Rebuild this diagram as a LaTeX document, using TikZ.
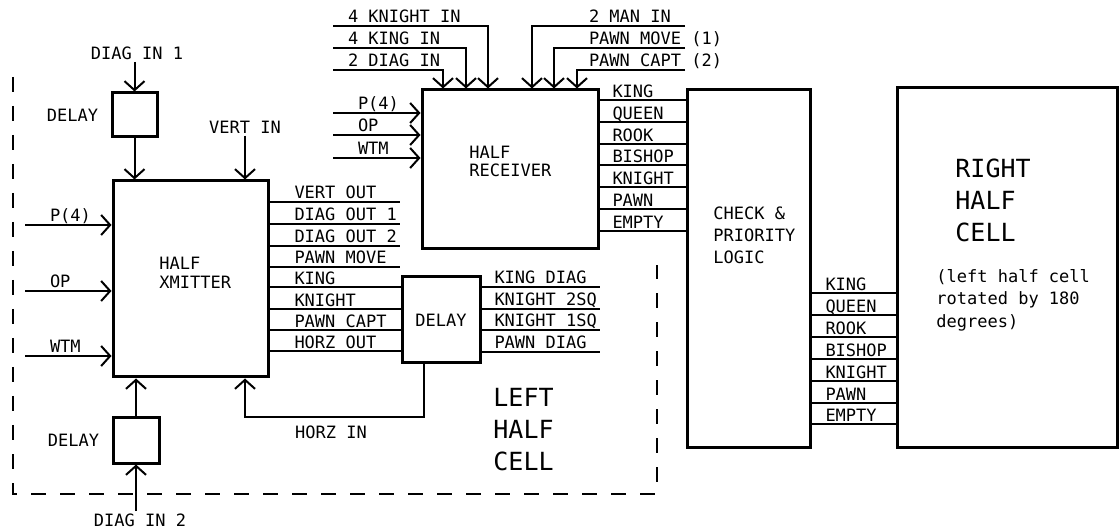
\documentclass[tikz,border=0pt]{standalone}
\usepackage{fontspec}
\newfontfamily\plotfont{DejaVu Sans Mono}
\usetikzlibrary{arrows.meta, positioning}

\begin{document}
\begin{tikzpicture}[
    x=0.5pt, y=-0.5pt,
    txt/.style={font=\plotfont\fontsize{8.5}{10}\selectfont, inner sep=1pt},
    lbl/.style={txt, anchor=base west, yshift=1.5pt},
    bigtxt/.style={font=\plotfont\fontsize{12.5}{16}\selectfont, align=left, inner sep=0pt, anchor=west},
    block/.style={draw, line width=1.5pt, inner sep=0pt},
    wire/.style={line width=1pt},
    arrow/.style={wire, -{Straight Barb[length=4.5pt, width=10pt]}},
    cellline/.style={line width=1.4pt, dash pattern=on 7.5pt off 7pt}
]
\useasboundingbox (0,0) rectangle (1120,529);

% Blocks
\node[block, minimum width=77.5pt, minimum height=98pt] (xmit) at (190.5,279) {};
\node[txt, align=left, anchor=west, font=\plotfont\fontsize{8.5}{9.5}\selectfont] (txmit) at (157,272.5) {HALF\\XMITTER};
\node[block, minimum width=22.5pt, minimum height=22pt] (tdelay) at (134.5,115) {};
\node[block, minimum width=23pt, minimum height=22.5pt] (bdelay) at (136,440.5) {};
\node[block, minimum width=39pt, minimum height=43pt, font=\plotfont\fontsize{8.5}{10}\selectfont] (mdelay) at (441,320) {DELAY};
\node[block, minimum width=88pt, minimum height=79.5pt] (recv) at (510,169.5) {};
\node[txt, align=left, anchor=west, font=\plotfont\fontsize{8.5}{9}\selectfont] (trecv) at (467,161) {HALF\\RECEIVER};
\node[block, minimum width=61.5pt, minimum height=178.5pt] (check) at (748.5,268.5) {};
\node[txt, align=left, anchor=west, font=\plotfont\fontsize{8.5}{11}\selectfont] (tcheck) at (711,235) {CHECK \&\\PRIORITY\\LOGIC};
\node[block, minimum width=110pt, minimum height=179.5pt] (rhalf) at (1007,267.5) {};
\node[bigtxt] (trhalf) at (955,200) {RIGHT\\HALF\\CELL};
\node[txt, align=left, anchor=west, font=\plotfont\fontsize{8.5}{11.25}\selectfont] (rnote) at (934,300) {(left half cell\\rotated by 180\\degrees)};

% Left half cell boundary
\draw[cellline] (13,77) -- (13,494) -- (657,494) -- (657,265);
\node[bigtxt] (tlhalf) at (493,430) {LEFT\\HALF\\CELL};

% Delays around the xmitter
\node[txt] (din1) at (137,53) {DIAG IN 1};
\draw[arrow] (din1.south -| tdelay) -- (tdelay);
\draw[arrow] (tdelay) -- (xmit.north -| tdelay);
\node[txt, left=5pt of tdelay] (ltdelay) {DELAY};
\node[txt] (vin) at (245,127) {VERT IN};
\draw[arrow] (vin) -- (xmit.north -| vin);
\node[txt] (din2) at (140,520) {DIAG IN 2};
\draw[arrow] (din2.north -| bdelay) -- (bdelay);
\draw[arrow] (bdelay) -- (xmit.south -| bdelay);
\node[txt, left=5pt of bdelay] (lbdelay) {DELAY};

% Xmitter inputs
\coordinate (xp) at (25,225);
\coordinate (xo) at (25,291);
\coordinate (xw) at (25,356);
\draw[arrow] (xp) -- (xmit.west |- xp) node[lbl, at start, xshift=11pt] (txp) {P(4)};
\draw[arrow] (xo) -- (xmit.west |- xo) node[lbl, at start, xshift=11pt] (txo) {OP};
\draw[arrow] (xw) -- (xmit.west |- xw) node[lbl, at start, xshift=11pt] (txw) {WTM};

% Xmitter outputs
\coordinate (vo) at (400,202);
\coordinate (do1) at (400,224);
\coordinate (do2) at (400,246);
\coordinate (pm) at (400,267);
\draw[wire] (xmit.east |- vo) -- (vo) node[lbl, at start, xshift=11pt] (tvo) {VERT OUT};
\draw[wire] (xmit.east |- do1) -- (do1) node[lbl, at start, xshift=11pt] (tdo1) {DIAG OUT 1};
\draw[wire] (xmit.east |- do2) -- (do2) node[lbl, at start, xshift=11pt] (tdo2) {DIAG OUT 2};
\draw[wire] (xmit.east |- pm) -- (pm) node[lbl, at start, xshift=11pt] (tpm) {PAWN MOVE};
\draw[wire] ([yshift=-54pt]xmit.north east) coordinate (xk) -- (mdelay.west |- xk) node[lbl, at start, xshift=11pt] (txk) {KING};
\draw[wire] ([yshift=-65pt]xmit.north east) coordinate (xn) -- (mdelay.west |- xn) node[lbl, at start, xshift=11pt] (txn) {KNIGHT};
\draw[wire] ([yshift=-75.5pt]xmit.north east) coordinate (xc) -- (mdelay.west |- xc) node[lbl, at start, xshift=11pt] (txc) {PAWN CAPT};
\draw[wire] ([yshift=-86pt]xmit.north east) coordinate (xh) -- (mdelay.west |- xh) node[lbl, at start, xshift=11pt] (txh) {HORZ OUT};

% Delay outputs
\coordinate (kd) at (600,287);
\coordinate (n2) at (600,309);
\coordinate (n1) at (600,330);
\coordinate (pd) at (600,352);
\draw[wire] (mdelay.east |- kd) -- (kd) node[lbl, at start, xshift=5pt] (tkd) {KING DIAG};
\draw[wire] (mdelay.east |- n2) -- (n2) node[lbl, at start, xshift=5pt] (tn2) {KNIGHT 2SQ};
\draw[wire] (mdelay.east |- n1) -- (n1) node[lbl, at start, xshift=5pt] (tn1) {KNIGHT 1SQ};
\draw[wire] (mdelay.east |- pd) -- (pd) node[lbl, at start, xshift=5pt] (tpd) {PAWN DIAG};

% Horizontal feedback
\coordinate (hin) at (245,417);
\draw[arrow] ([xshift=-8.5pt]mdelay.south) |- (hin) -- (xmit.south -| hin);
\node[txt] (thin) at (331,432) {HORZ IN};

% Receiver inputs
\coordinate (rkn) at (333,26);
\coordinate (rki) at (333,48);
\coordinate (rdi) at (333,70);
\draw[arrow] (rkn) -| ([xshift=-11pt]recv.north) node[lbl, at start, xshift=6pt] (trkn) {4 KNIGHT IN};
\draw[arrow] (rki) -| ([xshift=-22pt]recv.north) node[lbl, at start, xshift=6pt] (trki) {4 KING IN};
\draw[arrow] (rdi) -| ([xshift=-33.5pt]recv.north) node[lbl, at start, xshift=6pt] (trdi) {2 DIAG IN};
\coordinate (rmi) at (685,26);
\coordinate (rpm) at (685,48);
\coordinate (rpc) at (685,70);
\draw[arrow] (rmi) -| ([xshift=11pt]recv.north) node[lbl, at start, xshift=-49.5pt] (trmi) {2 MAN IN};
\draw[arrow] (rpm) -| ([xshift=22pt]recv.north) node[lbl, at start, xshift=-49.5pt] (trpm) {PAWN MOVE (1)};
\draw[arrow] (rpc) -| ([xshift=33.5pt]recv.north) node[lbl, at start, xshift=-49.5pt] (trpc) {PAWN CAPT (2)};
\coordinate (rp) at (333,113);
\coordinate (ro) at (333,135);
\coordinate (rw) at (333,158);
\draw[arrow] (rp) -- (recv.west |- rp) node[lbl, at start, xshift=11pt] (trp) {P(4)};
\draw[arrow] (ro) -- (recv.west |- ro) node[lbl, at start, xshift=11pt] (tro) {OP};
\draw[arrow] (rw) -- (recv.west |- rw) node[lbl, at start, xshift=11pt] (trw) {WTM};

% Receiver to check logic
\draw[wire] ([yshift=-6pt]recv.north east) coordinate (ck) -- (check.west |- ck) node[lbl, at start, xshift=5pt] (tck) {KING};
\draw[wire] ([yshift=-17pt]recv.north east) coordinate (cq) -- (check.west |- cq) node[lbl, at start, xshift=5pt] (tcq) {QUEEN};
\draw[wire] ([yshift=-28pt]recv.north east) coordinate (cr) -- (check.west |- cr) node[lbl, at start, xshift=5pt] (tcr) {ROOK};
\draw[wire] ([yshift=-38.5pt]recv.north east) coordinate (cb) -- (check.west |- cb) node[lbl, at start, xshift=5pt] (tcb) {BISHOP};
\draw[wire] ([yshift=-49.5pt]recv.north east) coordinate (cn) -- (check.west |- cn) node[lbl, at start, xshift=5pt] (tcn) {KNIGHT};
\draw[wire] ([yshift=-60.5pt]recv.north east) coordinate (cp) -- (check.west |- cp) node[lbl, at start, xshift=5pt] (tcp) {PAWN};
\draw[wire] ([yshift=-71.5pt]recv.north east) coordinate (ce) -- (check.west |- ce) node[lbl, at start, xshift=5pt] (tce) {EMPTY};

% Right half cell to check logic
\draw[wire] ([yshift=-102.5pt]check.north east) coordinate (hk) -- (rhalf.west |- hk) node[lbl, at start, xshift=5.5pt] (thk) {KING};
\draw[wire] ([yshift=-113.5pt]check.north east) coordinate (hq) -- (rhalf.west |- hq) node[lbl, at start, xshift=5.5pt] (thq) {QUEEN};
\draw[wire] ([yshift=-124.5pt]check.north east) coordinate (hr) -- (rhalf.west |- hr) node[lbl, at start, xshift=5.5pt] (thr) {ROOK};
\draw[wire] ([yshift=-135.5pt]check.north east) coordinate (hb) -- (rhalf.west |- hb) node[lbl, at start, xshift=5.5pt] (thb) {BISHOP};
\draw[wire] ([yshift=-146.5pt]check.north east) coordinate (hn) -- (rhalf.west |- hn) node[lbl, at start, xshift=5.5pt] (thn) {KNIGHT};
\draw[wire] ([yshift=-157.5pt]check.north east) coordinate (hp) -- (rhalf.west |- hp) node[lbl, at start, xshift=5.5pt] (thp) {PAWN};
\draw[wire] ([yshift=-168pt]check.north east) coordinate (he) -- (rhalf.west |- he) node[lbl, at start, xshift=5.5pt] (the) {EMPTY};

\end{tikzpicture}
\end{document}
